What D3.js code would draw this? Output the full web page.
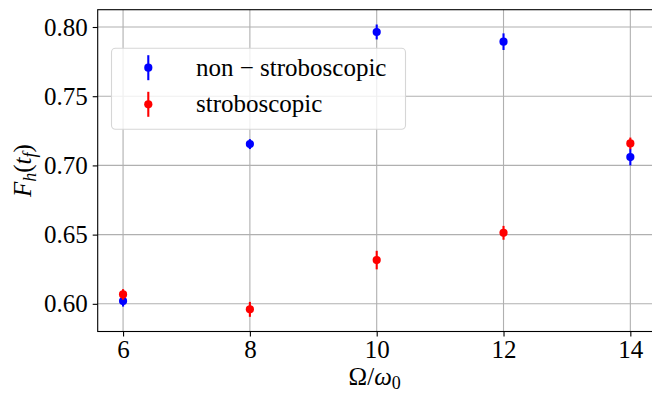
<!doctype html>
<html lang="en">
  <head>
    <meta charset="utf-8">
    <title>F_h(t_f)</title>
    <style>
      * { margin: 0; padding: 0; border: 0; }
      body { background: #fff; }
      svg text { font-family: "Liberation Serif", "DejaVu Serif", serif !important; fill: #000; }
    </style>
  </head>
  <body>
    <div id="plot"></div>

<script src="https://d3js.org/d3.v7.min.js"></script>
<script>

  // data
  var omega = [6, 8, 10, 12, 14];
  var nonStrobo    = [0.602, 0.7154, 0.7964, 0.7894, 0.706];
  var nonStroboErr = [0.004, 0.0036, 0.0054, 0.006, 0.006];
  var strobo       = [0.6068, 0.596, 0.6316, 0.6513, 0.7159];
  var stroboErr    = [0.0038, 0.0054, 0.0067, 0.005, 0.0042];
  var xTicks = [6, 8, 10, 12, 14];
  var yTicks = [0.60, 0.65, 0.70, 0.75, 0.80];

  var width  = 652;
  var height = 394;
  // plot box (the right edge runs just past the window, as in the figure)
  var x0 = 97.7, x1 = 655.7, y0 = 9.7, y1 = 331.5;

  var xscale = d3.scaleLinear().domain([5.6, 14.4]).range([x0, x1]);
  var yscale = d3.scaleLinear().domain([0.58, 0.8125]).range([y1, y0]);

  var svg = d3.select("#plot").append("svg").attr("width", width).attr("height", height);

  // grid
  svg.append("g").selectAll("line").data(xTicks).join("line")
    .attr("x1", d => xscale(d)).attr("x2", d => xscale(d))
    .attr("y1", y0).attr("y2", y1)
    .style("stroke", "#b0b0b0").style("stroke-width", 1.1);
  svg.append("g").selectAll("line").data(yTicks).join("line")
    .attr("y1", d => yscale(d)).attr("y2", d => yscale(d))
    .attr("x1", x0).attr("x2", x1)
    .style("stroke", "#b0b0b0").style("stroke-width", 1.1);

  // axes
  var xAxis = d3.axisBottom(xscale).tickValues(xTicks).tickSize(5).tickPadding(4).tickFormat(d3.format("d"));
  var yAxis = d3.axisLeft(yscale).tickValues(yTicks).tickSize(5).tickPadding(5).tickFormat(d3.format(".2f"));
  var gx = svg.append("g").attr("transform", "translate(0," + y1 + ")").call(xAxis);
  var gy = svg.append("g").attr("transform", "translate(" + x0 + ",0)").call(yAxis);
  [gx, gy].forEach(g => {
    g.attr("font-family", null).attr("font-size", null);
    g.select(".domain").remove();
    g.selectAll(".tick line").style("stroke", "#000").style("stroke-width", 1.1);
    g.selectAll(".tick text").style("font-size", "25px");
  });

  // frame
  svg.append("rect").attr("x", x0).attr("y", y0)
    .attr("width", x1 - x0).attr("height", y1 - y0)
    .style("fill", "none").style("stroke", "#000").style("stroke-width", 1.1);

  function series(vals, errs, color) {
    var pts = omega.map((e, i) => [e, vals[i], errs[i]]);
    var g = svg.append("g");
    g.selectAll("line").data(pts).join("line")
      .attr("x1", d => xscale(d[0])).attr("x2", d => xscale(d[0]))
      .attr("y1", d => yscale(d[1] - d[2])).attr("y2", d => yscale(d[1] + d[2]))
      .style("stroke", color).style("stroke-width", 2.1);
    g.selectAll("circle").data(pts).join("circle")
      .attr("cx", d => xscale(d[0])).attr("cy", d => yscale(d[1])).attr("r", 4.1)
      .style("fill", color);
  }
  series(nonStrobo, nonStroboErr, "#0000ff");
  series(strobo, stroboErr, "#ff0000");

  // legend
  var lg = svg.append("g");
  lg.append("rect").attr("x", 111.5).attr("y", 48.3).attr("width", 294).attr("height", 81)
    .attr("rx", 4).style("fill", "rgba(255,255,255,0.8)").style("stroke", "#d6d6d6").style("stroke-width", 1.1);
  var entries = [["non \u2212 stroboscopic", "#0000ff"], ["stroboscopic", "#ff0000"]];
  entries.forEach((e, i) => {
    var cy = 67.7 + i * 36.6;
    lg.append("line").attr("x1", 148.3).attr("x2", 148.3).attr("y1", cy - 12.5).attr("y2", cy + 12.5)
      .style("stroke", e[1]).style("stroke-width", 2.1);
    lg.append("circle").attr("cx", 148.3).attr("cy", cy).attr("r", 4.1).style("fill", e[1]);
    lg.append("text").attr("x", 196).attr("y", cy + 8).style("font-size", "25px").text(e[0]);
  });

  // axis labels
  var xl = svg.append("text").attr("x", (x0 + x1) / 2 - 2).attr("y", 385)
    .attr("text-anchor", "middle").style("font-size", "25px");
  xl.append("tspan").text("\u03a9/");
  xl.append("tspan").style("font-style", "italic").text("\u03c9");
  xl.append("tspan").attr("dy", 4).style("font-size", "18px").text("0");

  var yl = svg.append("text").attr("transform", "translate(31," + ((y0 + y1) / 2) + ") rotate(-90)")
    .attr("text-anchor", "middle").style("font-size", "25px");
  yl.append("tspan").style("font-style", "italic").text("F");
  yl.append("tspan").attr("dy", 5).style("font-size", "18px").style("font-style", "italic").text("h");
  yl.append("tspan").attr("dy", -5).text("(");
  yl.append("tspan").style("font-style", "italic").text("t");
  yl.append("tspan").attr("dy", 5).style("font-size", "18px").style("font-style", "italic").text("f");
  yl.append("tspan").attr("dy", -5).text(")");

</script>
  </body>
</html>
